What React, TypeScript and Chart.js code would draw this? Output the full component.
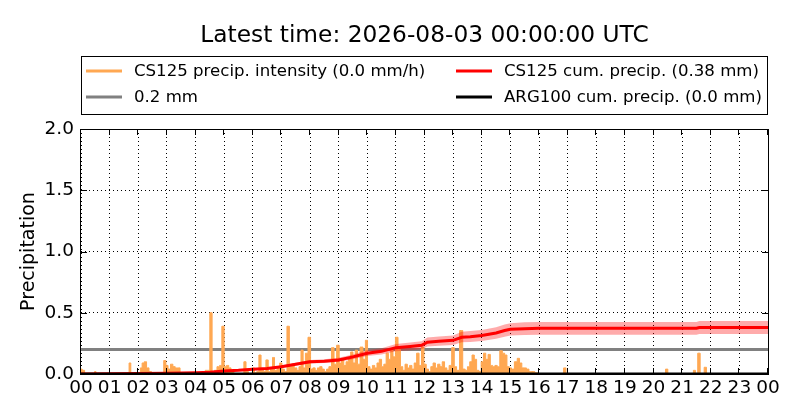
import React, { useEffect, useRef } from "react";
import { Chart, registerables } from "chart.js";

Chart.register(...registerables);

const titleText = "Latest time: 2026-08-03 00:00:00 UTC";
const yAxisTitle = "Precipitation";
const hourLabels = [
  "00", "01", "02", "03", "04", "05", "06", "07", "08", "09", "10", "11",
  "12", "13", "14", "15", "16", "17", "18", "19", "20", "21", "22", "23", "00",
];
const yTickLabels = ["0.0", "0.5", "1.0", "1.5", "2.0"];

// CS125 precipitation intensity (mm/h), hours since 00:00
const intensityHours = [
  0.0, 0.08, 0.17, 0.45, 0.5, 0.55, 1.65, 1.71, 1.77, 2.05, 2.1, 2.17, 2.25, 2.33, 2.42, 2.5,
  2.85, 2.93, 3.0, 3.08, 3.17, 3.25, 3.33, 3.42, 3.5, 4.3, 4.38, 4.46, 4.54, 4.62, 4.7, 4.8,
  4.88, 4.96, 5.04, 5.12, 5.2, 5.28, 5.4, 5.65, 5.73, 5.8, 5.9, 5.96, 6.02, 6.1, 6.18, 6.25,
  6.33, 6.42, 6.5, 6.58, 6.66, 6.72, 6.8, 6.9, 6.98, 7.06, 7.15, 7.24, 7.32, 7.4, 7.5, 7.58,
  7.65, 7.72, 7.8, 7.88, 7.98, 8.06, 8.14, 8.22, 8.3, 8.38, 8.46, 8.54, 8.62, 8.7, 8.8, 8.88,
  8.98, 9.06, 9.14, 9.22, 9.3, 9.38, 9.46, 9.54, 9.62, 9.7, 9.8, 9.9, 9.97, 10.05, 10.14, 10.22,
  10.3, 10.38, 10.46, 10.54, 10.62, 10.7, 10.78, 10.86, 10.94, 11.03, 11.12, 11.2, 11.28, 11.36,
  11.44, 11.52, 11.6, 11.68, 11.77, 11.85, 11.94, 12.02, 12.1, 12.18, 12.26, 12.34, 12.42, 12.5,
  12.58, 12.66, 12.74, 12.82, 12.9, 13.0, 13.08, 13.16, 13.29, 13.38, 13.46, 13.54, 13.62, 13.7,
  13.78, 13.86, 13.94, 14.02, 14.1, 14.18, 14.26, 14.34, 14.42, 14.5, 14.58, 14.68, 14.76, 14.84,
  14.92, 15.0, 15.08, 15.2, 15.28, 15.36, 15.44, 15.52, 15.6, 15.7, 15.8, 15.9, 16.0, 16.82,
  16.9, 16.98, 20.38, 20.46, 20.54, 21.36, 21.43, 21.5, 21.59, 21.67, 21.73, 21.81, 21.89, 24.0,
];
const intensityValues = [
  0.04, 0.03, 0, 0, 0.02, 0, 0, 0.09, 0, 0, 0.05, 0.09, 0.1, 0.05, 0.02, 0,
  0, 0.11, 0.07, 0.04, 0.08, 0.06, 0.05, 0.05, 0, 0, 0.03, 0.03, 0.5, 0.02, 0.03, 0.06,
  0.07, 0.39, 0.06, 0.07, 0.05, 0.02, 0, 0, 0.1, 0.02, 0, 0, 0.05, 0.01, 0.02, 0.155,
  0.03, 0.02, 0.115, 0.02, 0.05, 0.135, 0.03, 0.05, 0.09, 0.04, 0.02, 0.39, 0.06, 0.08, 0.05, 0.03,
  0.06, 0.195, 0.05, 0.17, 0.3, 0.04, 0.05, 0.03, 0.05, 0.06, 0.04, 0.02, 0.04, 0.06, 0.215, 0.08,
  0.235, 0.09, 0.12, 0.07, 0.1, 0.13, 0.18, 0.09, 0.195, 0.08, 0.22, 0.12, 0.275, 0.06, 0.04, 0.07,
  0.05, 0.09, 0.12, 0.06, 0.08, 0.17, 0.12, 0.2, 0.14, 0.3, 0.2, 0.06, 0.03, 0.08,
  0.05, 0.07, 0.04, 0.09, 0.17, 0.07, 0.22, 0.08, 0.04, 0.02, 0.06, 0.09, 0.05, 0.08,
  0.06, 0.1, 0.05, 0.03, 0.07, 0.215, 0.06, 0.03, 0.355, 0.04, 0.03, 0.06, 0.1, 0.155,
  0.12, 0.03, 0.02, 0.1, 0.17, 0.12, 0.16, 0.07, 0.06, 0.07, 0.06, 0.19, 0.17, 0.155,
  0.06, 0.05, 0.04, 0.1, 0.128, 0.09, 0.05, 0.05, 0.04, 0.02, 0.02, 0.01, 0, 0,
  0.05, 0, 0, 0.04, 0, 0, 0.03, 0, 0.17, 0, 0, 0.055, 0, 0,
];

// CS125 cumulative precipitation (mm) with its uncertainty band
const cumHours = [
  0, 1, 2, 3, 3.5, 4, 4.5, 5, 5.5, 6, 6.5, 7, 7.5, 8, 8.5, 9, 9.5, 10, 10.5, 11, 11.5, 11.9,
  12.1, 12.5, 13, 13.3, 13.6, 14, 14.5, 14.8, 15, 15.5, 16, 21.5, 21.6, 24,
];
const cumValues = [
  0, 0.002, 0.004, 0.006, 0.008, 0.01, 0.014, 0.025, 0.03, 0.038, 0.045, 0.06, 0.08, 0.1, 0.105,
  0.115, 0.14, 0.17, 0.185, 0.215, 0.225, 0.235, 0.26, 0.268, 0.275, 0.3, 0.305, 0.315, 0.335,
  0.355, 0.365, 0.37, 0.373, 0.373, 0.38, 0.38,
];
const cumUpper = [
  0, 0.002, 0.005, 0.007, 0.009, 0.011, 0.016, 0.029, 0.034, 0.044, 0.051, 0.069, 0.091, 0.115,
  0.12, 0.132, 0.16, 0.195, 0.211, 0.245, 0.257, 0.268, 0.297, 0.306, 0.315, 0.345, 0.352, 0.36,
  0.382, 0.405, 0.415, 0.422, 0.425, 0.425, 0.433, 0.433,
];
const cumLower = [
  0, 0.002, 0.003, 0.005, 0.007, 0.009, 0.012, 0.021, 0.026, 0.033, 0.039, 0.052, 0.069, 0.086,
  0.09, 0.099, 0.12, 0.147, 0.159, 0.185, 0.193, 0.202, 0.224, 0.23, 0.237, 0.26, 0.262, 0.27,
  0.288, 0.305, 0.315, 0.318, 0.321, 0.321, 0.327, 0.327,
];

const thresholdHours = [0, 24];
const thresholdValues = [0.2, 0.2];
const argHours = [0, 24];
const argValues = [0, 0];

const labelIntensity = "CS125 precip. intensity (0.0 mm/h)";
const labelThreshold = "0.2 mm";
const labelCum = "CS125 cum. precip. (0.38 mm)";
const labelArg = "ARG100 cum. precip. (0.0 mm)";

const FONT = '"DejaVu Sans", sans-serif';
const ORANGE = "rgb(255,168,82)";

const toXY = (xs: number[], ys: number[]) => xs.map((x, i) => ({ x, y: ys[i] }));

const decorPlugin = {
  id: "decor",
  afterDraw(chart: any) {
    const { ctx, chartArea: a, scales } = chart;
    ctx.save();
    // frame
    ctx.strokeStyle = "#000";
    ctx.lineWidth = 1;
    ctx.setLineDash([]);
    ctx.strokeRect(a.left - 0.5, a.top + 0.5, a.right - a.left + 1, a.bottom - a.top);
    // inner ticks
    ctx.beginPath();
    for (const t of scales.x.ticks) {
      const px = Math.round(scales.x.getPixelForValue(t.value)) - 0.5;
      ctx.moveTo(px, a.bottom);
      ctx.lineTo(px, a.bottom - 6);
      ctx.moveTo(px, a.top);
      ctx.lineTo(px, a.top + 6);
    }
    for (const t of scales.y.ticks) {
      const py = Math.round(scales.y.getPixelForValue(t.value)) + 0.5;
      ctx.moveTo(a.left, py);
      ctx.lineTo(a.left + 6, py);
      ctx.moveTo(a.right, py);
      ctx.lineTo(a.right - 6, py);
    }
    ctx.stroke();

    // title
    ctx.fillStyle = "#000";
    ctx.font = `23.3px ${FONT}`;
    ctx.textAlign = "center";
    ctx.textBaseline = "alphabetic";
    ctx.fillText(titleText, (a.left + a.right) / 2, 42);

    // legend
    ctx.strokeStyle = "#000";
    ctx.lineWidth = 1;
    ctx.strokeRect(a.left + 0.5, 56.5, a.right - a.left - 1, 58);
    ctx.font = `16.6px ${FONT}`;
    ctx.textAlign = "left";
    ctx.textBaseline = "middle";
    const colX = [a.left + 5, a.left + 375];
    const rowY = [71, 97];
    chart.data.datasets.forEach((ds: any) => {
      if (!ds.legendSlot) return;
      const [c, r] = ds.legendSlot;
      const x = colX[c];
      const y = rowY[r];
      ctx.strokeStyle = ds.legendColor;
      ctx.lineWidth = 3;
      ctx.beginPath();
      ctx.moveTo(x, y);
      ctx.lineTo(x + 36, y);
      ctx.stroke();
      ctx.fillStyle = "#000";
      ctx.fillText(ds.label, x + 48, y + 1);
    });
    ctx.restore();
  },
};

export default function App() {
  const ref = useRef<HTMLCanvasElement | null>(null);

  useEffect(() => {
    if (!ref.current) return;
    const chart = new Chart(ref.current, {
      type: "line",
      data: {
        datasets: [
          {
            label: labelArg,
            data: toXY(argHours, argValues),
            borderColor: "#000",
            borderWidth: 3,
            pointRadius: 0,
            fill: false,
            legendSlot: [1, 1],
            legendColor: "#000",
          } as any,
          {
            label: labelCum,
            data: toXY(cumHours, cumValues),
            borderColor: "#ff0000",
            borderWidth: 3,
            pointRadius: 0,
            fill: false,
            legendSlot: [1, 0],
            legendColor: "#ff0000",
          },
          {
            label: "upper",
            data: toXY(cumHours, cumUpper),
            borderWidth: 0,
            borderColor: "rgba(255,0,0,0)",
            backgroundColor: "rgba(255,0,0,0.33)",
            pointRadius: 0,
            fill: "+1",
          },
          {
            label: "lower",
            data: toXY(cumHours, cumLower),
            borderWidth: 0,
            borderColor: "rgba(255,0,0,0)",
            pointRadius: 0,
            fill: false,
          },
          {
            label: labelIntensity,
            data: toXY(intensityHours, intensityValues),
            borderWidth: 1,
            borderColor: ORANGE,
            backgroundColor: ORANGE,
            pointRadius: 0,
            stepped: "middle",
            fill: "origin",
            legendSlot: [0, 0],
            legendColor: ORANGE,
          },
          {
            label: labelThreshold,
            data: toXY(thresholdHours, thresholdValues),
            borderColor: "#808080",
            borderWidth: 3,
            pointRadius: 0,
            fill: false,
            legendSlot: [0, 1],
            legendColor: "#808080",
          },
        ],
      },
      options: {
        animation: false,
        responsive: false,
        devicePixelRatio: 1,
        layout: { padding: { top: 129, right: 32, left: 0, bottom: 0 } },
        plugins: {
          legend: { display: false },
          tooltip: { enabled: false },
          title: { display: false },
        },
        scales: {
          x: {
            type: "linear",
            min: 0,
            max: 24,
            afterFit: (s: any) => {
              s.height = 46;
            },
            ticks: {
              stepSize: 1,
              autoSkip: false,
              maxRotation: 0,
              minRotation: 0,
              padding: 3,
              color: "#000",
              font: { family: FONT, size: 18.5 },
              callback: (_v: any, i: number) => hourLabels[i],
            },
            grid: { color: "#000", lineWidth: 1, drawTicks: false },
            border: { display: false, dash: [1, 3] },
          },
          y: {
            type: "linear",
            min: 0,
            max: 2,
            afterFit: (s: any) => {
              s.width = 81;
            },
            ticks: {
              stepSize: 0.5,
              padding: 7,
              color: "#000",
              font: { family: FONT, size: 18.5 },
              callback: (_v: any, i: number) => yTickLabels[i],
            },
            title: {
              display: true,
              text: yAxisTitle,
              color: "#000",
              font: { family: FONT, size: 19, lineHeight: 1 },
              padding: { top: 20, bottom: 0 },
            },
            grid: { color: "#000", lineWidth: 1, drawTicks: false },
            border: { display: false, dash: [1, 3] },
          },
        },
      },
      plugins: [decorPlugin],
    });
    return () => chart.destroy();
  }, []);

  return (
    <div style={{ position: "absolute", left: 0, top: 0, width: 800, height: 420, background: "#fff" }}>
      <canvas ref={ref} width={800} height={420} />
    </div>
  );
}
